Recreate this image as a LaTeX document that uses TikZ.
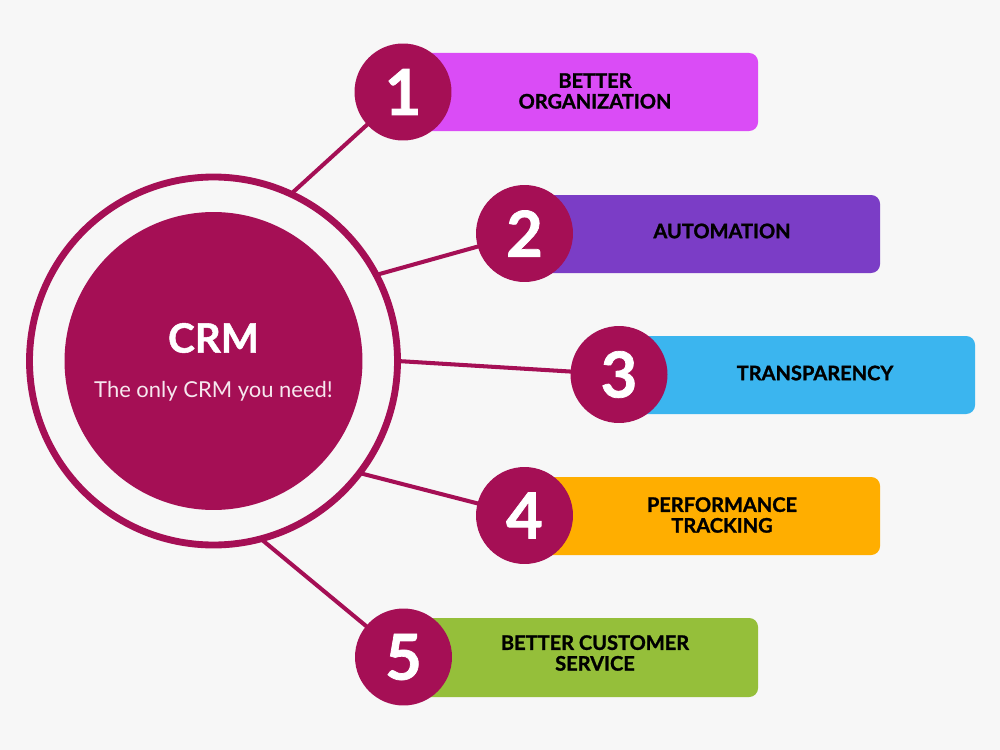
\documentclass[tikz,border=0pt]{standalone}
\usepackage{fontspec}
\setmainfont{Lato}
\newfontfamily\heavyfont{Lato}[BoldFeatures={FakeBold=1.2}]
\definecolor{bg}{HTML}{F7F7F7}
\definecolor{maroon}{HTML}{A50F55}
\definecolor{cA}{HTML}{DA4CF6}
\definecolor{cB}{HTML}{7B3DC6}
\definecolor{cC}{HTML}{3BB5EF}
\definecolor{cD}{HTML}{FFAE00}
\definecolor{cE}{HTML}{95BF3A}
\tikzset{
  numcirc/.style={circle, fill=maroon, minimum size=1.94cm, inner sep=0pt, text=white,
    font=\heavyfont\fontsize{36}{36}\selectfont\bfseries},
  conn/.style={draw=maroon, line width=2.3pt},
  bar/.style={rounded corners=5pt},
  lbl/.style={align=center, text=black, font=\heavyfont\fontsize{11.4}{11.8}\selectfont\bfseries},
}
\begin{document}
\begin{tikzpicture}[x=0.02cm, y=-0.02cm]
\fill[bg] (0,0) rectangle (1000,750);
\useasboundingbox (0,0) rectangle (1000,750);
% centres
\coordinate (C) at (213.5,361);
\coordinate (r1) at (291,194);
\coordinate (r2) at (376,275);
\coordinate (r3) at (397.5,361);
\coordinate (r4) at (359.5,473);
\coordinate (r5) at (261,539);
\coordinate (p1) at (403,92);
\coordinate (p2) at (524.5,233.5);
\coordinate (p3) at (619,374.5);
\coordinate (p4) at (524.5,515.5);
\coordinate (p5) at (403.5,657);
% connectors
\draw[conn] (r1) -- (p1);
\draw[conn] (r2) -- (p2);
\draw[conn] (r3) -- (p3);
\draw[conn] (r4) -- (p4);
\draw[conn] (r5) -- (p5);
% ring and centre
\draw[maroon, line width=3.9pt] (C) circle[radius=184];
\node[circle, fill=maroon, minimum size=5.96cm, inner sep=0pt] (crm) at (C) {};
\node[text=white, font=\heavyfont\fontsize{23}{23}\selectfont\bfseries] (crmt) at (213.5,338) {CRM};
\node[text=white!90!maroon, font=\fontsize{12.5}{13}\selectfont] (crms) at (213.5,391) {The only CRM you need!};
% bars
\fill[bar, cA] (403,53) rectangle (758,131);
\fill[bar, cB] (524,195) rectangle (880,273);
\fill[bar, cC] (619,336) rectangle (975,414);
\fill[bar, cD] (524,477) rectangle (880,555);
\fill[bar, cE] (403,618) rectangle (758,697);
% number circles
\node[numcirc] (n1) at (p1) {1};
\node[numcirc] (n2) at (p2) {2};
\node[numcirc] (n3) at (p3) {3};
\node[numcirc] (n4) at (p4) {4};
\node[numcirc] (n5) at (p5) {5};
% labels
\node[lbl] (t1) at (595,91) {BETTER\\ORGANIZATION};
\node[lbl] (t2) at (722,231) {AUTOMATION};
\node[lbl] (t3) at (815,373) {TRANSPARENCY};
\node[lbl] (t4) at (722,515) {PERFORMANCE\\TRACKING};
\node[lbl] (t5) at (595,653) {BETTER CUSTOMER\\SERVICE};
\end{tikzpicture}
\end{document}
